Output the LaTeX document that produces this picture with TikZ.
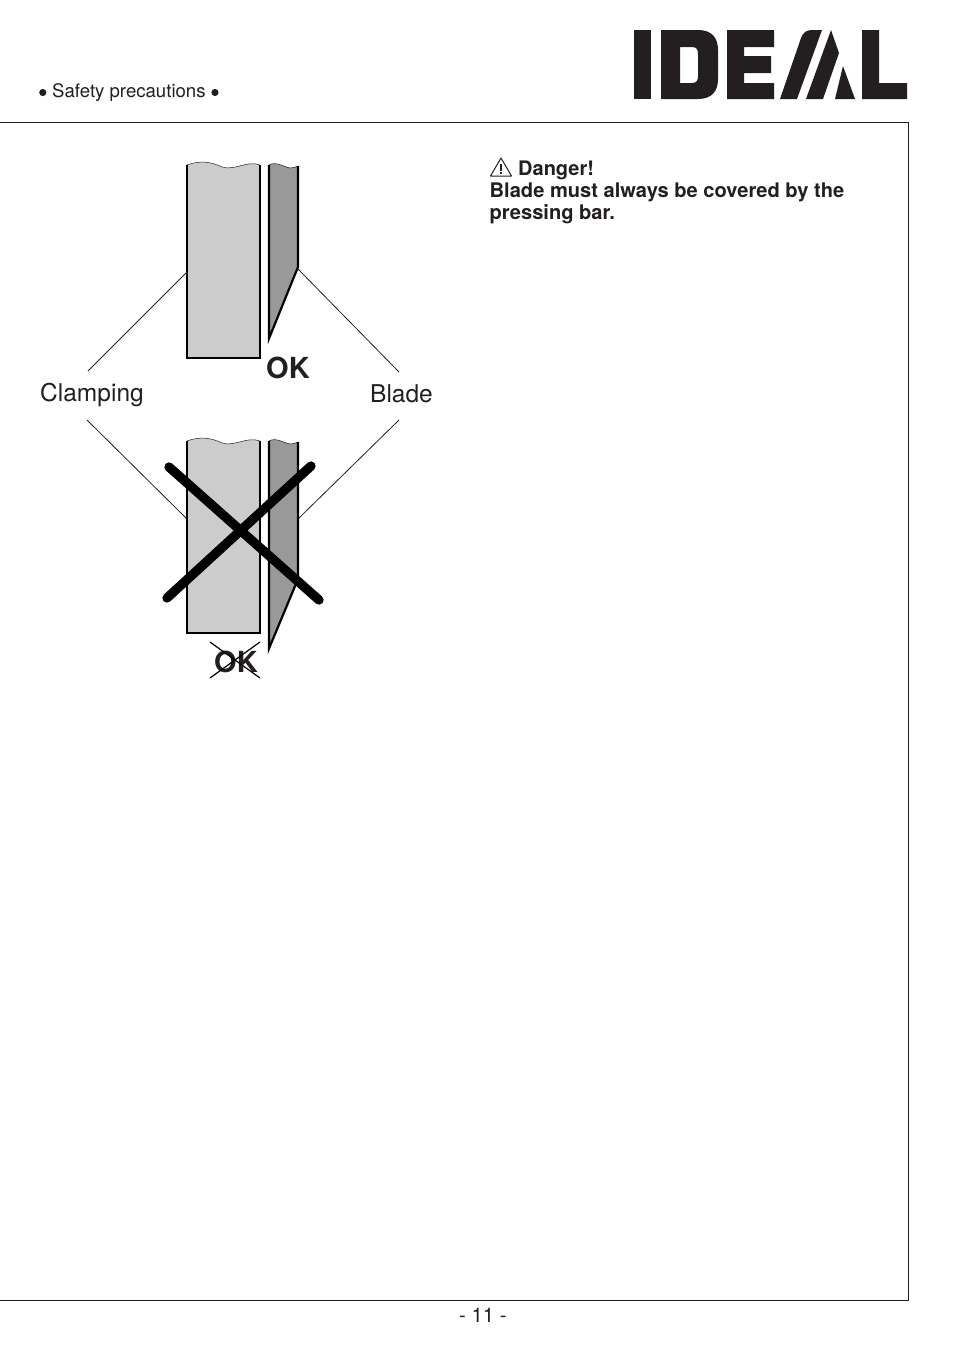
\documentclass[tikz,border=0pt]{standalone}
\usepackage{fontspec}
\setmainfont{TeX Gyre Heros}
\definecolor{ink}{HTML}{231F20}
\definecolor{clampgray}{HTML}{CCCCCC}
\definecolor{bladegray}{HTML}{999999}
\tikzset{
  txt/.style={inner sep=0pt,anchor=base west,text=ink},
  leader/.style={draw=ink,line width=0.8pt},
  clampbar/.style={draw=black,fill=clampgray,line width=2.2pt},
  bladebar/.style={draw=black,fill=bladegray,line width=2.2pt},
  wave/.style={draw=ink,line width=0.5pt},
  bigx/.style={draw=black,line width=9.3pt,line cap=round},
  thinx/.style={draw=black,line width=1.2pt},
  logo/.style={fill=ink,even odd rule}
}
\newcommand{\fs}[1]{\fontsize{#1}{#1}\selectfont}
\begin{document}
\begin{tikzpicture}[x=1pt,y=-1pt]
\useasboundingbox (0,0) rectangle (954,1352);
\fill[white] (0,0) rectangle (954,1352);
% frame
\coordinate (f1) at (0,122.8); \coordinate (f2) at (908.6,122.8);
\coordinate (f3) at (908.6,1300.3); \coordinate (f4) at (0,1300.3);
\draw[draw=ink,line width=1pt] (f1) -- (f2) -- (f3) -- (f4);
% logo
\fill[logo] (634,30) rectangle (651,99);
\fill[logo] (661,30) -- (698,30) .. controls (712,30) and (718,38) .. (718,50) -- (718,79) .. controls (718,91) and (712,99) .. (698,99) -- (661,99) -- cycle
  (680,47) -- (680,83) -- (692,83) .. controls (697,83) and (698,80) .. (698,76) -- (698,54) .. controls (698,50) and (697,47) .. (692,47) -- cycle;
\fill[logo] (727,30) -- (774,30) -- (774,47) -- (744,47) -- (744,56) -- (771,56) -- (771,73) -- (744,73) -- (744,83) -- (774,83) -- (774,99) -- (727,99) -- cycle;
\fill[logo] (780,99) -- (797,99) -- (822,30) -- (812,30) .. controls (806,30) and (803,33) .. (801,38) -- cycle;
\fill[logo] (806,99) -- (823,99) -- (839,53) -- (831,30) -- cycle;
\fill[logo] (843,66) -- (855,99) -- (835,99) -- cycle;
\fill[logo] (862,30) -- (879,30) -- (879,83) -- (907,83) -- (907,99) -- (862,99) -- cycle;
% header
\fill[ink] (42.8,92.5) circle (3.6pt);
\node[txt,font=\fs{18.6}] (hdr) at (52,97) {Safety precautions};
\fill[ink] (215,92.5) circle (3.6pt);
% upper drawing
\path[fill=clampgray] (187,165) .. controls (200,160) and (212,162) .. (222,167) .. controls (235,171) and (247,160) .. (260,165) -- (260,358) -- (187,358) -- cycle;
\draw[clampbar,fill=none] (187,165) -- (187,358) -- (260,358) -- (260,165);
\draw[wave] (187,165) .. controls (200,160) and (212,162) .. (222,167) .. controls (235,171) and (247,160) .. (260,165);
\path[fill=bladegray] (269,165) .. controls (276,161) and (284,167) .. (290,168) .. controls (293,168) and (296,167) .. (298,166) -- (298,267) -- (269,338.5) -- cycle;
\draw[bladebar,fill=none,line join=miter] (298,166) -- (298,267) -- (269,338.5) -- (269,165);
\draw[wave] (269,165) .. controls (276,161) and (284,167) .. (290,168) .. controls (293,168) and (296,167) .. (298,166);
\coordinate (c1) at (187,272); \coordinate (c2) at (88,371);
\coordinate (b1) at (297,268); \coordinate (b2) at (399,372);
\draw[leader] (c1) -- (c2);
\draw[leader] (b1) -- (b2);
\node[txt,font=\fs{29}\bfseries] (ok1) at (266,378) {OK};
\node[txt,font=\fs{24.5}] (clamp) at (40,401) {Clamping};
\node[txt,font=\fs{24.5}] (blade) at (370,402) {Blade};
% lower drawing
\coordinate (c3) at (187,519); \coordinate (c4) at (87,420);
\coordinate (b3) at (298,519); \coordinate (b4) at (399,420);
\draw[leader] (c3) -- (c4);
\draw[leader] (b3) -- (b4);
\path[fill=clampgray] (187,441) .. controls (200,436) and (212,438) .. (222,443) .. controls (235,447) and (247,436) .. (260,441) -- (260,633) -- (187,633) -- cycle;
\draw[clampbar,fill=none] (187,441) -- (187,633) -- (260,633) -- (260,441);
\draw[wave] (187,441) .. controls (200,436) and (212,438) .. (222,443) .. controls (235,447) and (247,436) .. (260,441);
\path[fill=bladegray] (269,441) .. controls (276,437) and (284,443) .. (290,444) .. controls (293,444) and (296,443) .. (298,442) -- (298,579) -- (269,648.5) -- cycle;
\draw[bladebar,fill=none] (298,442) -- (298,579) -- (269,648.5) -- (269,441);
\draw[wave] (269,441) .. controls (276,437) and (284,443) .. (290,444) .. controls (293,444) and (296,443) .. (298,442);
\coordinate (x1) at (169,467); \coordinate (x2) at (319,600);
\coordinate (x3) at (311,466); \coordinate (x4) at (167,598);
\draw[bigx] (x1) -- (x2);
\draw[bigx] (x3) -- (x4);
\node[txt,font=\fs{29}\bfseries] (ok2) at (214,672) {OK};
\coordinate (y1) at (210,642); \coordinate (y2) at (260,678);
\coordinate (y3) at (260,642); \coordinate (y4) at (210,678);
\draw[thinx] (y1) -- (y2);
\draw[thinx] (y3) -- (y4);
% danger text
\draw[draw=ink,line width=1pt,line join=round] (501,158) -- (511.5,176) -- (490.5,176) -- cycle;
\fill[ink] (500.4,163.5) rectangle (501.6,170.5);
\fill[ink] (500.4,172) rectangle (501.6,174);
\node[txt,font=\fs{20}\bfseries] (d1) at (518,175) {Danger!};
\node[txt,font=\fs{20.1}\bfseries] (d2) at (489.5,197) {Blade must always be covered by the};
\node[txt,font=\fs{20.1}\bfseries] (d3) at (489.5,219) {pressing bar.};
% footer
\node[txt,font=\fs{20.3}] (pg) at (459,1322) {- 11 -};
\end{tikzpicture}
\end{document}
